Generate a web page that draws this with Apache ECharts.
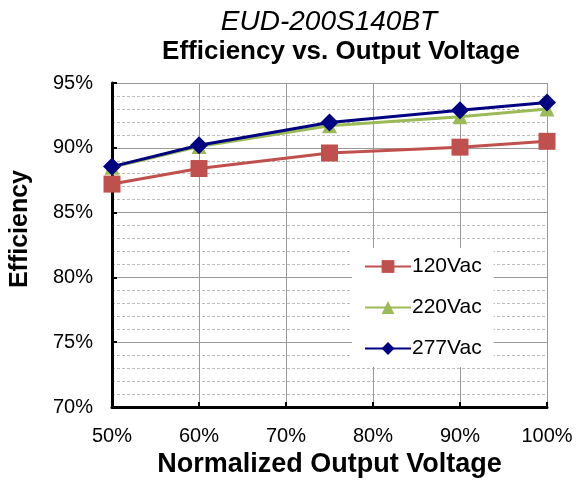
<!DOCTYPE html>
<html>
<head>
<meta charset="utf-8">
<script src="https://cdn.jsdelivr.net/npm/echarts@6/dist/echarts.min.js"></script>
<style>
html,body{margin:0;padding:0;background:#fff;}
#chart{width:576px;height:483px;}
</style>
</head>
<body>
<div id="chart"></div>
<script>
// 数据
var voltage = [50, 60, 75, 90, 100];
var eff120 = [87.2, 88.4, 89.6, 90.05, 90.5];
var eff220 = [88.5, 90.1, 91.7, 92.4, 93.0];
var eff277 = [88.55, 90.2, 91.95, 92.9, 93.5];
var seriesNames = ['120Vac', '220Vac', '277Vac'];

function pairs(ys) {
    return voltage.map(function (x, i) { return [x, ys[i]]; });
}

var font = 'Liberation Sans, Arial, sans-serif';
var myChart = echarts.init(document.getElementById('chart'));
option = {
    animation: false,
    backgroundColor: '#fff',
    title: [
        {text: 'EUD-200S140BT', left: 324, top: 3, textAlign: 'center',
         textStyle: {fontFamily: font, fontSize: 28, fontStyle: 'italic', fontWeight: 'normal', color: '#000'}},
        {text: 'Efficiency vs. Output Voltage', left: 336, top: 34, textAlign: 'center',
         textStyle: {fontFamily: font, fontSize: 26, fontWeight: 'bold', color: '#000'}}
    ],
    // 纵轴标题单独画，位置比轴中点偏上
    graphic: [{
        type: 'text', left: 8, top: 170, rotation: Math.PI / 2,
        style: {text: 'Efficiency', font: 'bold 25px ' + font, fill: '#000'}
    }],
    legend: {
        orient: 'vertical', left: 352, top: 248,
        backgroundColor: '#fff', padding: [8, 12, 8, 12],
        itemWidth: 46, itemHeight: 16, itemGap: 20,
        textStyle: {fontFamily: font, fontSize: 21, color: '#000', padding: [0, 0, 0, -4]},
        data: seriesNames
    },
    grid: {left: 112, right: 29, top: 83, bottom: 75},
    xAxis: {
        type: 'value', min: 50, max: 100, interval: 10,
        name: 'Normalized Output Voltage', nameLocation: 'middle', nameGap: 44,
        nameTextStyle: {fontFamily: font, fontSize: 27, fontWeight: 'bold', color: '#000'},
        axisLine: {lineStyle: {color: '#000', width: 3}},
        axisTick: {inside: true, length: 5, lineStyle: {color: '#000', width: 2}},
        axisLabel: {formatter: '{value}%', fontFamily: font, fontSize: 20, color: '#000', margin: 19},
        splitLine: {show: true, lineStyle: {color: '#999', width: 1}}
    },
    yAxis: {
        type: 'value', min: 70, max: 95, interval: 5,
        axisLine: {show: true, lineStyle: {color: '#000', width: 3}},
        axisTick: {show: true, inside: true, length: 5, lineStyle: {color: '#000', width: 2}},
        axisLabel: {formatter: '{value}%', fontFamily: font, fontSize: 20, color: '#000', margin: 19},
        splitLine: {show: true, lineStyle: {color: '#999', width: 1}},
        minorTick: {show: false, splitNumber: 5},
        minorSplitLine: {show: true, lineStyle: {color: '#bbb', width: 1, type: [3, 2]}}
    },
    series: [
        {name: seriesNames[0], type: 'line', data: pairs(eff120), symbol: 'rect', symbolSize: 17,
         lineStyle: {color: '#C0504D', width: 3}, itemStyle: {color: '#C0504D'}},
        {name: seriesNames[1], type: 'line', data: pairs(eff220), symbol: 'triangle', symbolSize: 15,
         lineStyle: {color: '#9BBB59', width: 3}, itemStyle: {color: '#9BBB59'}},
        {name: seriesNames[2], type: 'line', data: pairs(eff277), symbol: 'diamond', symbolSize: 18,
         lineStyle: {color: '#000080', width: 3}, itemStyle: {color: '#000080'}}
    ]
};
myChart.setOption(option);
</script>
</body>
</html>
